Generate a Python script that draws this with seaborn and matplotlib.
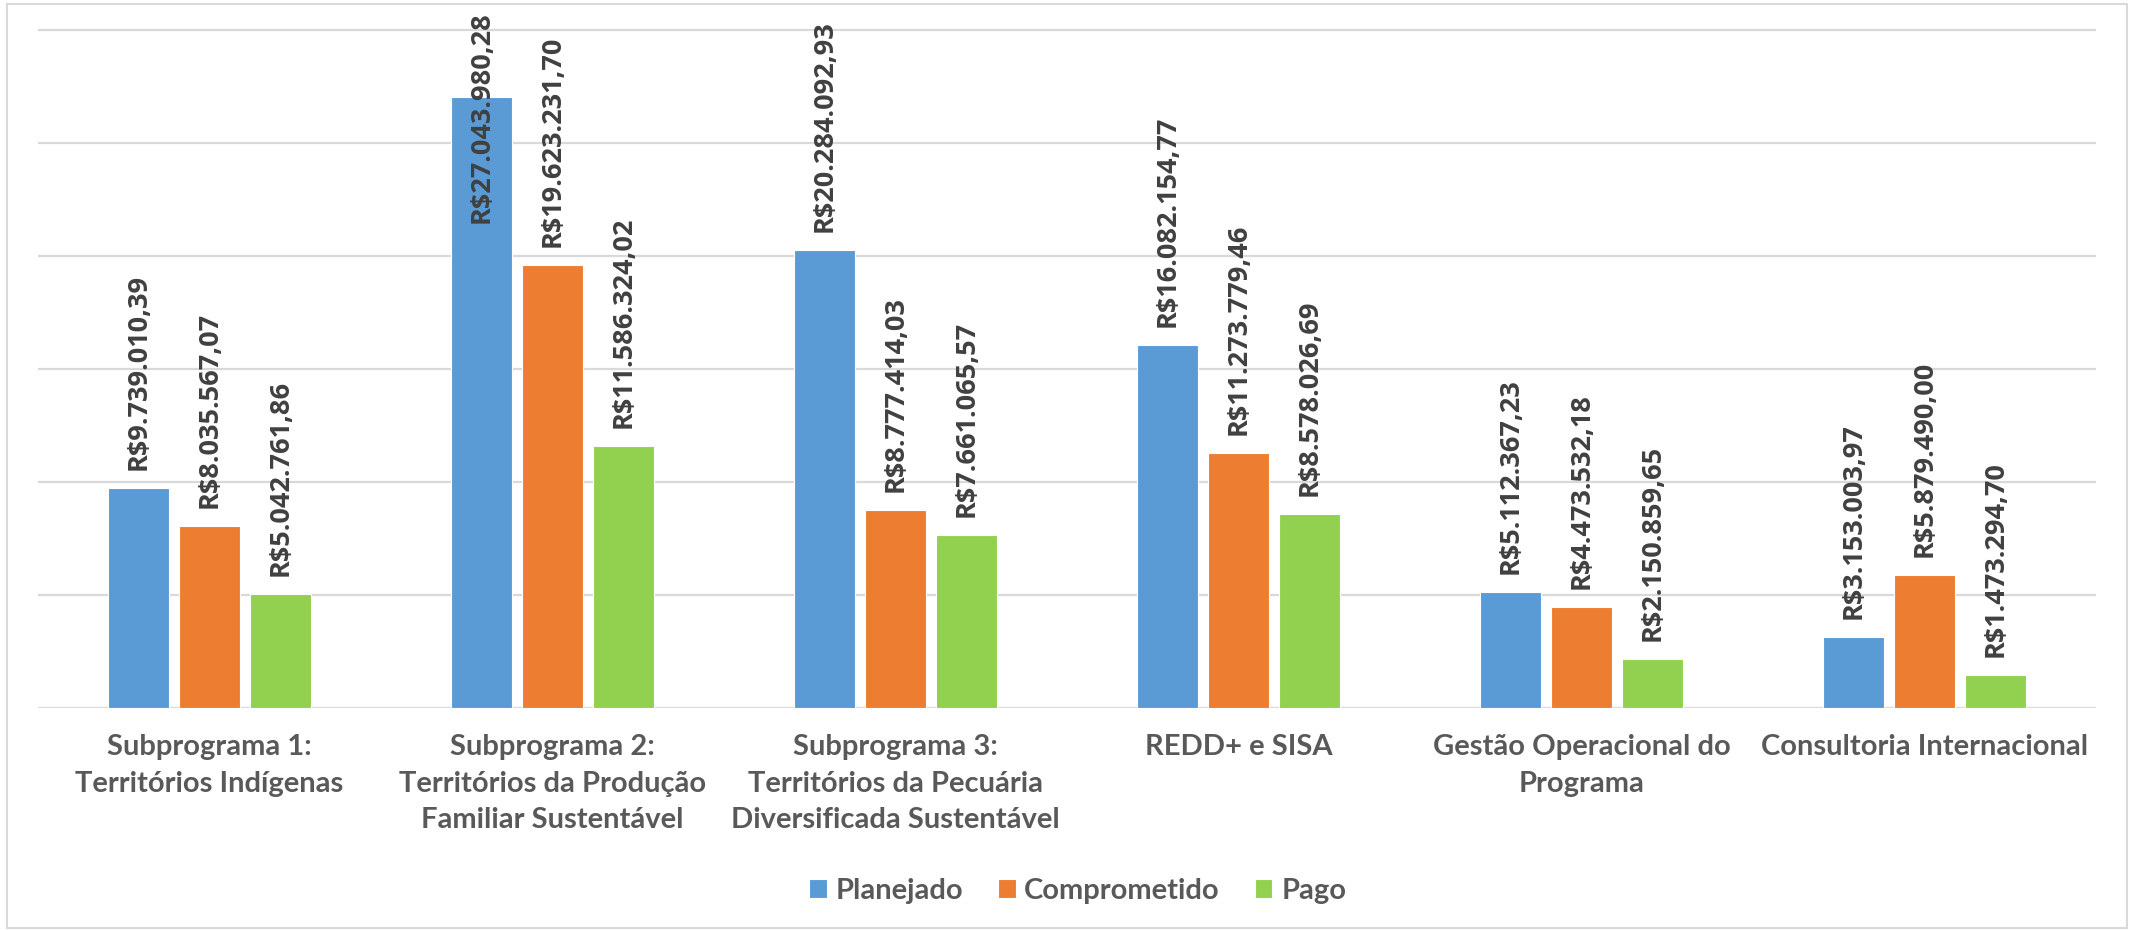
"""
Execução financeira por subprograma: Planejado x Comprometido x Pago.
"""

import matplotlib

matplotlib.use("Agg")
import matplotlib.pyplot as plt
from matplotlib.patches import Rectangle
import pandas as pd
import seaborn as sns

# ── Dados ────────────────────────────────────────────────────────────────────
categorias = [
    "Subprograma 1:\nTerritórios Indígenas",
    "Subprograma 2:\nTerritórios da Produção\nFamiliar Sustentável",
    "Subprograma 3:\nTerritórios da Pecuária\nDiversificada Sustentável",
    "REDD+ e SISA",
    "Gestão Operacional do\nPrograma",
    "Consultoria Internacional",
]
series = ["Planejado", "Comprometido", "Pago"]
planejado = [9739010.39, 27043980.28, 20284092.93, 16082154.77, 5112367.23, 3153003.97]
comprometido = [8035567.07, 19623231.70, 8777414.03, 11273779.46, 4473532.18, 5879490.00]
pago = [5042761.86, 11586324.02, 7661065.57, 8578026.69, 2150859.65, 1473294.70]
cores = ["#5B9BD5", "#ED7D31", "#92D050"]

TEXT_GRAY = "#595959"
LABEL_GRAY = "#404040"
GRID_GRAY = "#d9d9d9"
CAT_FONT = ["Lato", "DejaVu Sans"]
VAL_FONT = ["Open Sans", "DejaVu Sans"]


def brl(v: float) -> str:
    s = f"{v:,.2f}"  # 9,739,010.39
    s = s.replace(",", "X").replace(".", ",").replace("X", ".")
    return "R$" + s


df = pd.DataFrame(
    {
        "categoria": categorias * 3,
        "serie": [s for s in series for _ in categorias],
        "valor": planejado + comprometido + pago,
    }
)

# ── Figura ───────────────────────────────────────────────────────────────────
sns.set_style("white")
fig = plt.figure(figsize=(21.34, 9.3), dpi=100)
ax = fig.add_axes([0.0178, 0.2387, 0.9644, 0.7495])

sns.barplot(
    data=df,
    x="categoria",
    y="valor",
    hue="serie",
    palette=cores,
    width=0.623,
    gap=0.14,
    edgecolor="white",
    linewidth=0.8,
    saturation=1,
    ax=ax,
    legend=True,
)

ytop = 30.85e6
ax.set_ylim(0, ytop)
ax.set_yticks([i * 5e6 for i in range(7)])
ax.set_yticklabels([])
ax.tick_params(axis="y", length=0)
ax.grid(axis="y", color=GRID_GRAY, linewidth=1.6)
ax.set_axisbelow(True)
for sp in ax.spines.values():
    sp.set_visible(False)
ax.set_xlabel("")
ax.set_ylabel("")
ax.tick_params(axis="x", length=0, pad=19)
for lab in ax.get_xticklabels():
    lab.set_family(CAT_FONT)
    lab.set_fontweight("bold")
    lab.set_fontsize(21)
    lab.set_color(TEXT_GRAY)
    lab.set_linespacing(1.5)

# rótulos de dados
anns = []
for container in ax.containers:
    for bar in container:
        h = bar.get_height()
        cx = bar.get_x() + bar.get_width() / 2
        t = ax.annotate(
            brl(h),
            xy=(cx, h),
            xytext=(0, 13),
            textcoords="offset points",
            rotation=90,
            ha="center",
            va="bottom",
            fontsize=19.5,
            fontweight="bold",
            color=LABEL_GRAY,
            family=VAL_FONT,
            annotation_clip=False,
        )
        anns.append((t, cx))

# rótulos que não cabem acima da barra são encostados no topo da área
fig.canvas.draw()
top_px = ax.get_window_extent().y1
for t, cx in anns:
    if t.get_window_extent().y1 > top_px:
        t.xy = (cx, ytop)
        t.set_position((0, 0))
        t.set_va("top")

# legenda
handles, labels = ax.get_legend_handles_labels()
leg = ax.legend(
    handles,
    labels,
    loc="center",
    bbox_to_anchor=(0.505, 0.042),
    bbox_transform=fig.transFigure,
    ncol=3,
    frameon=False,
    handlelength=0.6,
    handleheight=0.6,
    handletextpad=0.3,
    columnspacing=1.2,
    prop={"family": CAT_FONT, "weight": "bold", "size": 21},
)
for txt in leg.get_texts():
    txt.set_color(TEXT_GRAY)

# moldura do gráfico
fig.patches.append(
    Rectangle(
        (0.0033, 0.002),
        0.9934,
        0.9935,
        transform=fig.transFigure,
        fill=False,
        edgecolor=GRID_GRAY,
        linewidth=1.5,
    )
)

fig.savefig("out.png", dpi=100)
plt.close(fig)
